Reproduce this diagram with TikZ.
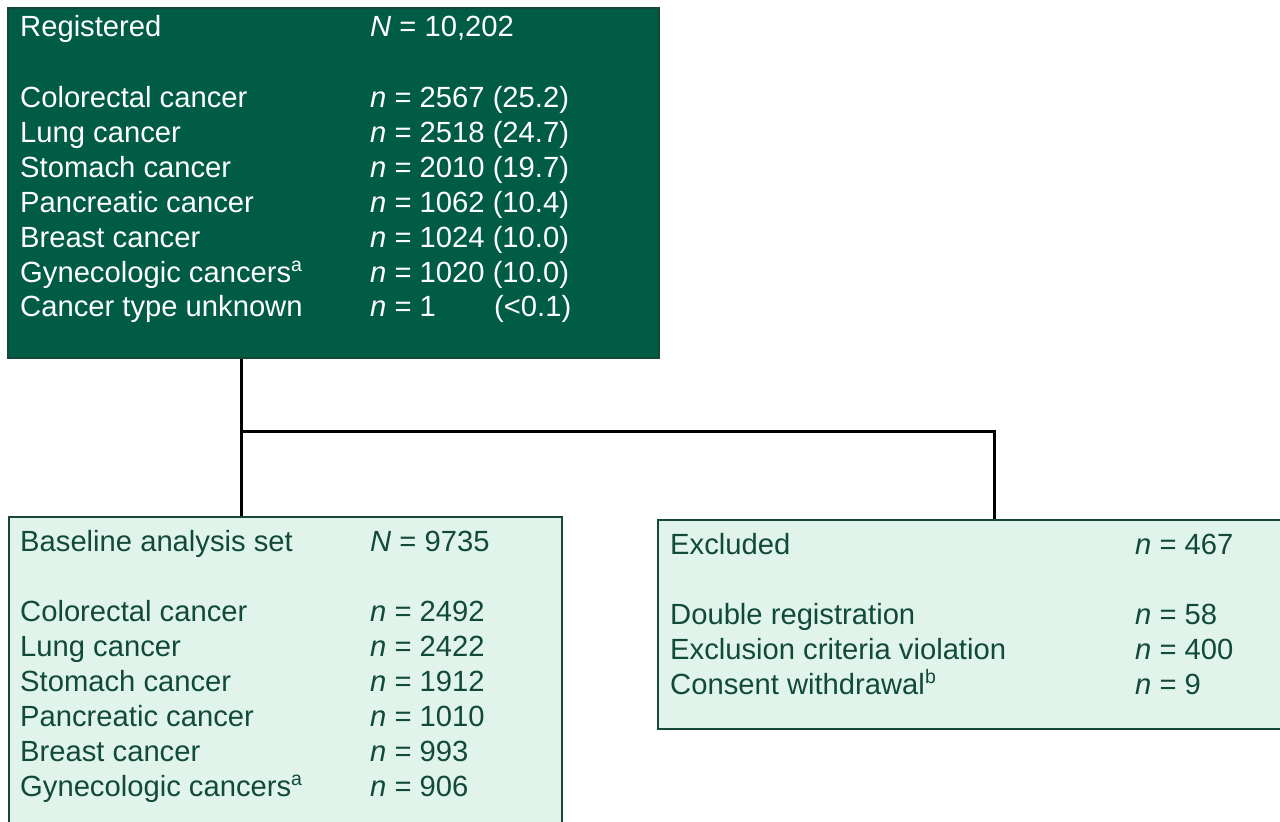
\documentclass[tikz,border=0pt]{standalone}
\usepackage{fontspec}
\setmainfont{Liberation Sans}
\definecolor{darkfill}{RGB}{0,92,69}
\definecolor{darkedge}{RGB}{22,72,56}
\definecolor{lightfill}{RGB}{224,244,235}
\definecolor{darktext}{RGB}{18,74,56}
\newcommand{\supx}[1]{\raisebox{0.36em}{\fontsize{19.5}{19.5}\selectfont #1}}
\begin{document}
\begin{tikzpicture}[x=1pt,y=-1pt,
  topbox/.style={draw=darkedge,fill=darkfill,line width=2pt,rectangle,anchor=north west,inner sep=0pt},
  lightbox/.style={draw=darkedge,fill=lightfill,line width=2pt,rectangle,anchor=north west,inner sep=0pt},
  txt/.style={anchor=base west,inner sep=0pt,font=\fontsize{29.2}{34}\selectfont},
  wtxt/.style={txt,text=white},
  gtxt/.style={txt,text=darktext},
  conn/.style={draw=black,line width=3pt}]
\useasboundingbox (0,0) rectangle (1280,822);
\clip (0,0) rectangle (1280,822);
\fill[white] (0,0) rectangle (1280,822);

% boxes
\node[topbox,minimum width=651pt,minimum height=350pt] (reg) at (7,7) {};
\node[lightbox,minimum width=553pt,minimum height=330pt] (base) at (8,516) {};
\node[lightbox,minimum width=640pt,minimum height=209pt] (excl) at (657,519) {};

% connectors
\coordinate (j1) at (241,431);
\coordinate (j2) at (994,431);
\draw[conn] (reg.south -| j1) -- (j1) -- (j2) -- (excl.north -| j2);
\draw[conn] (j1) -- (base.north -| j1);

% top box text
\node[wtxt] (r0) at (20,36) {Registered};
\node[wtxt] (r0n) at (370,36) {\textit{N} = 10,202};
\node[wtxt] (r1) at (20,107) {Colorectal cancer};
\node[wtxt] (r1n) at (370,107) {\textit{n} = 2567 (25.2)};
\node[wtxt] (r2) at (20,142) {Lung cancer};
\node[wtxt] (r2n) at (370,142) {\textit{n} = 2518 (24.7)};
\node[wtxt] (r3) at (20,177) {Stomach cancer};
\node[wtxt] (r3n) at (370,177) {\textit{n} = 2010 (19.7)};
\node[wtxt] (r4) at (20,212) {Pancreatic cancer};
\node[wtxt] (r4n) at (370,212) {\textit{n} = 1062 (10.4)};
\node[wtxt] (r5) at (20,247) {Breast cancer};
\node[wtxt] (r5n) at (370,247) {\textit{n} = 1024 (10.0)};
\node[wtxt] (r6) at (20,282) {Gynecologic cancers\supx{a}};
\node[wtxt] (r6n) at (370,282) {\textit{n} = 1020 (10.0)};
\node[wtxt] (r7) at (20,316) {Cancer type unknown};
\node[wtxt] (r7n) at (370,316) {\textit{n} = 1};
\node[wtxt] (r7p) at (494,316) {(<0.1)};

% baseline analysis set text
\node[gtxt] (b0) at (20,551) {Baseline analysis set};
\node[gtxt] (b0n) at (370,551) {\textit{N} = 9735};
\node[gtxt] (b1) at (20,621) {Colorectal cancer};
\node[gtxt] (b1n) at (370,621) {\textit{n} = 2492};
\node[gtxt] (b2) at (20,656) {Lung cancer};
\node[gtxt] (b2n) at (370,656) {\textit{n} = 2422};
\node[gtxt] (b3) at (20,691) {Stomach cancer};
\node[gtxt] (b3n) at (370,691) {\textit{n} = 1912};
\node[gtxt] (b4) at (20,726) {Pancreatic cancer};
\node[gtxt] (b4n) at (370,726) {\textit{n} = 1010};
\node[gtxt] (b5) at (20,761) {Breast cancer};
\node[gtxt] (b5n) at (370,761) {\textit{n} = 993};
\node[gtxt] (b6) at (20,796) {Gynecologic cancers\supx{a}};
\node[gtxt] (b6n) at (370,796) {\textit{n} = 906};

% excluded text
\node[gtxt] (e0) at (670,554) {Excluded};
\node[gtxt] (e0n) at (1135,554) {\textit{n} = 467};
\node[gtxt] (e1) at (670,624) {Double registration};
\node[gtxt] (e1n) at (1135,624) {\textit{n} = 58};
\node[gtxt] (e2) at (670,659) {Exclusion criteria violation};
\node[gtxt] (e2n) at (1135,659) {\textit{n} = 400};
\node[gtxt] (e3) at (670,694) {Consent withdrawal\supx{b}};
\node[gtxt] (e3n) at (1135,694) {\textit{n} = 9};
\end{tikzpicture}
\end{document}
